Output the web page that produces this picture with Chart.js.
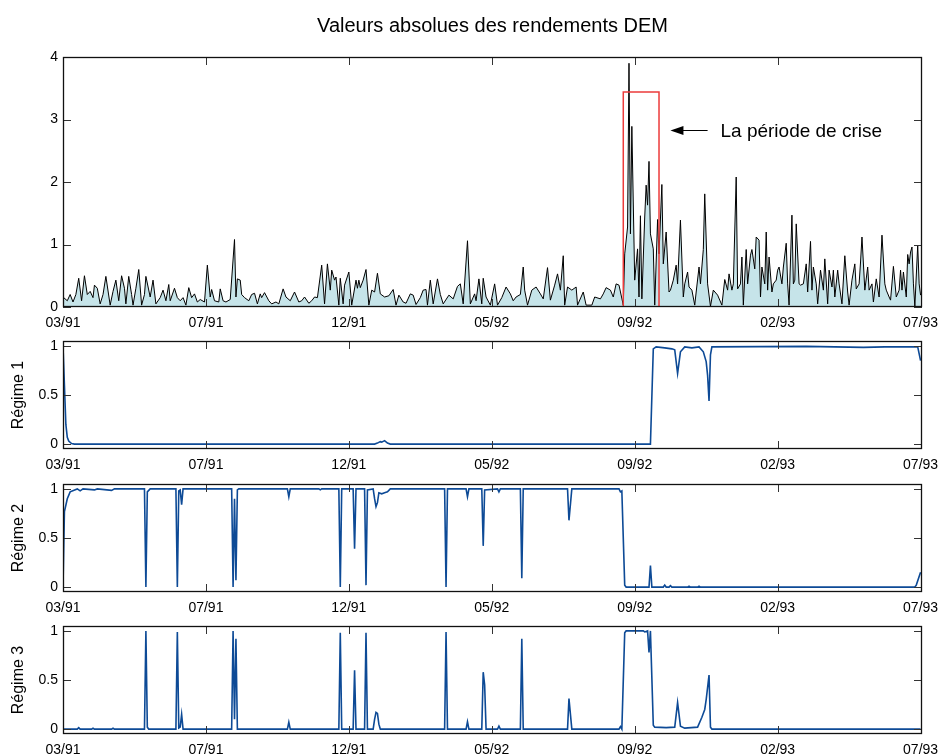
<!DOCTYPE html>
<html>
<head>
<meta charset="utf-8">
<script src="https://cdn.jsdelivr.net/npm/chart.js@4.4.1/dist/chart.umd.min.js"></script>
<style>
body{margin:0;background:#fff;}
#wrap{position:relative;width:943px;height:756px;background:#fff;}
#wrap canvas{position:absolute;left:0;top:0;}
</style>
</head>
<body>
<div id="wrap">
<canvas id="returns" width="943" height="756"></canvas>
<canvas id="regime1" width="943" height="756"></canvas>
<canvas id="regime2" width="943" height="756"></canvas>
<canvas id="regime3" width="943" height="756"></canvas>
</div>
<script>
// trading day index -> date label on the x axes
const tickDays = [0, 100, 200, 300, 400, 500, 600];
const tickLabels = ['03/91', '07/91', '12/91', '05/92', '09/92', '02/93', '07/93'];

// absolute DEM returns
const retDay = [
  0,3,5,7,9,11,13,15,17,19, 21,22,24,26,28,30,33,35,37,39,
  41,43,44,46,48,49,51,53,55,57, 58,61,63,65,68,70,72,74,75,78,
  80,82,84,86,88,90,92,94,96,99, 101,103,104,106,109,110,112,114,117,120,
  121,122,124,125,127,130,132,134,136,138, 139,141,144,146,149,
  151,154,156,159,162,165,167,169,172,174, 176,178,181,183,185,187,188,190,191,193,
  194,196,197,200,202,205,206,207,208,210, 212,214,216,218,220,222,225,228,231,233,
  235,238,240,243,245,247,250,252,254,255, 257,259,262,264,266,270,273,276,278,280,
  283,285,288,289,291,293,294,296,299,302,
  304,307,310,313,315,317,320,322,323,325, 328,331,334,336,339,341,344,346,348,350,
  351,353,356,359,360,364,366,370,372,376, 378,380,383,385,387,389,392,393,395,396,
  397,398,400,402,403,404,405,407,408,409, 410,411,413,414,416,417,419,420,422,424,
  425,427,429,430,432,434,435,437,438,440, 442,443,445,446,448,449,451,453,455,458,
  461,463,465,466,468,469,471,472,474,475, 476,478,479,481,482,484,485,487,488,489,
  491,492,493,494,496,497,499,500,501,503, 504,506,507,508,510,511,512,513,515,516,
  518,520,521,523,524,525,527,528,530,532, 533,535,536,538,539,540,542,543,545,547,
  549,550,552,554,555,557,558,559,561,563, 564,566,567,569,571,573,575,576,578,579,
  581,583,585,586,587,588,590,591,592,593, 594,595,596,598,599,600
];
const retAbs = [
  .16,.10,.20,.08,.20,.46,.10,.50,.20,.25, .15,.35,.30,.05,.20,.49,.03,.25,.43,.10,
  .50,.30,.05,.49,.20,.03,.30,.60,.03,.20, .49,.16,.43,.05,.15,.27,.10,.36,.10,.30,
  .15,.10,.15,.03,.31,.15,.21,.08,.12,.08, .67,.16,.28,.10,.08,.29,.10,.08,.12,1.08,
  .16,.45,.43,.20,.15,.10,.20,.22,.05,.21, .15,.23,.10,.05,.08,
  .05,.29,.16,.10,.24,.08,.10,.16,.06,.10, .16,.15,.67,.05,.69,.27,.59,.43,.48,.03,
  .46,.05,.35,.56,.03,.43,.30,.43,.31,.43, .60,.03,.27,.24,.54,.21,.16,.18,.28,.03,
  .19,.08,.06,.21,.19,.04,.15,.27,.28,.03, .43,.05,.45,.20,.05,.19,.13,.33,.37,.05,
  1.06,.05,.21,.10,.45,.05,.46,.16,.03,.37,
  .03,.15,.32,.21,.10,.16,.20,.64,.27,.03, .27,.32,.21,.13,.63,.11,.35,.53,.27,.82,
  .03,.32,.27,.32,.03,.24,.03,.03,.16,.13, .21,.31,.27,.16,.37,.35,.03,.85,1.28,3.90,
  1.17,2.89,.43,.93,.16,1.46,.13,1.44,1.95,1.63, 2.33,1.17,.93,.03,1.40,.85,1.96,.69,1.20,.24,
  .27,.43,.67,.37,1.39,.16,.37,.56,.32,.27, .03,.24,.64,.37,.92,1.81,.37,.01,.27,.19,
  .03,.44,.27,.53,.27,.37,2.08,.29,.37,.80, .03,.92,.37,.83,.92,.61,1.12,1.07,.16,.64,
  .37,1.20,.27,.80,.24,.37,.43,.59,.64,.37, .64,1.02,.37,.03,1.47,.37,.43,1.33,.37,.35,
  .37,.69,.24,1.05,.27,.64,.37,.05,.59,.27, .77,.05,.59,.32,.59,.16,.59,.37,.05,.82,
  .24,.03,.43,.69,.29,.37,.72,1.12,.27,.64, .27,.37,.08,.45,.16,1.15,.37,.27,.16,.11,
  .65,.16,.27,.59,.27,.56,.16,.84,.69,.88, .96,.37,.01,.99,.37,.19
];

// smoothed regime probabilities
const reg1Day = [0,1,2,3,4,6,8, 218,220,222,223,225,227,229, 411,413,415,421,426,428,430,432,435,440,
  445,448,450,451,452,453,454, 520,560,575,598,600];
const reg1Prob = [1,.6,.2,.07,.03,.005,0, 0,.01,.025,.02,.035,.01,0, 0,.97,.99,.98,.97,.96,.72,.94,.99,.98,
  .99,.94,.84,.7,.44,.91,.99, .995,.985,.99,.99,.85];

const reg2Day = [
  0,1,3,5,10,12,14,22,24,34, 36,57,58,59,61,79,80,81,82,83,
  84,118,119,120,121,122,123,157,158,159, 179,180,181,193,194,195,203,204,205,211,
  212,213,217,218,219,220,221,223,225,227, 229,267,268,269,282,283,284,293,294,295,
  304,305,306,320,321,322,353,354,356,389, 390,391,393,394,410,411,412,420,421,422,
  424,425,426,437,438,439,444,445,446,596, 597,600
];
const reg2Prob = [
  0,.77,.9,.97,1,.98,1,.99,1,.985, 1,1,0,.97,1,1,0,.98,.99,.84,
  1,1,0,.9,.07,.99,1,1,.92,1, 1,.99,1,1,0,1,1,.39,1,1,
  .02,.99,1,.9,.82,.86,.96,.95,.96,.97, 1,1,0,1,1,.92,1,1,.42,.99,
  1,.97,1,1,.09,1,1,.68,1,1, .97,.98,.02,0,0,.22,0,0,.02,0,
  0,.015,0,0,.01,0,0,.01,0,0, .02,.15
];

const reg3Day = [
  0,10,11,12,20,21,22,34,35,36, 57,58,59,60,79,80,81,82,83,84,
  118,119,120,121,122,157,158,159,193,194, 195,203,204,205,211,212,213,217,218,219,
  220,221,222,267,268,269,282,283,284,293, 294,295,296,304,305,306,320,321,322,353,
  354,356,389,390,391,393,394,406,407,409, 410,411,413,414,422,428,430,432,435,444,
  447,449,450,452,453,454,600
];
const reg3Prob = [
  0,0,.015,0,0,.01,0,0,.01,0, 0,1,.02,0,0,.99,.01,.02,.15,0,
  0,1,.1,.92,0,0,.07,0,0,.98, 0,0,.6,0,0,.98,0,0,.1,.17,
  .16,.05,0,0,.99,0,0,.075,0,0, .58,.45,0,0,.03,0,0,.92,0,0,
  .31,0,0,.025,0,.98,1,1,.99,1, .78,1,.04,.02,.015,.02,.27,.03,.01,.02,
  .12,.2,.3,.55,.02,0,0
];

// crisis annotation (data units)
const crisisSpan = [392, 417];
const crisisTop = 3.44;
const arrowSpan = [425, 451];
const arrowLevel = 2.83;
const labelDay = 460;
const crisisLabel = 'La période de crise';

Chart.defaults.font.family = "'Liberation Sans', Arial, Helvetica, sans-serif";
Chart.defaults.color = '#000';

const pairs = (xs, ys) => xs.map((x, i) => ({x: x, y: ys[i]}));

// MATLAB style box with inward ticks on all four sides
const framePlugin = {
  id: 'frame',
  afterDraw(chart) {
    const {ctx, chartArea: a, scales} = chart;
    ctx.save();
    ctx.strokeStyle = '#333';
    ctx.lineWidth = 1;
    ctx.beginPath();
    scales.x.ticks.forEach(t => {
      const px = Math.round(scales.x.getPixelForValue(t.value)) + 0.5;
      ctx.moveTo(px, a.bottom); ctx.lineTo(px, a.bottom - 8);
      ctx.moveTo(px, a.top); ctx.lineTo(px, a.top + 8);
    });
    scales.y.ticks.forEach(t => {
      const py = Math.round(scales.y.getPixelForValue(t.value)) + 0.5;
      ctx.moveTo(a.left, py); ctx.lineTo(a.left + 8, py);
      ctx.moveTo(a.right, py); ctx.lineTo(a.right - 8, py);
    });
    ctx.stroke();
    ctx.strokeStyle = '#111';
    ctx.lineWidth = 1.3;
    ctx.strokeRect(a.left + 0.5, a.top + 0.5, a.right - a.left - 1, a.bottom - a.top - 1);
    ctx.restore();
  }
};

const crisisPlugin = {
  id: 'crisis',
  afterDatasetsDraw(chart) {
    const {ctx} = chart;
    const xs = chart.scales.x, ys = chart.scales.y;
    const x0 = xs.getPixelForValue(crisisSpan[0]), x1 = xs.getPixelForValue(crisisSpan[1]);
    const yt = ys.getPixelForValue(crisisTop), yb = ys.getPixelForValue(0);
    ctx.save();
    ctx.strokeStyle = '#ec3b3b';
    ctx.lineWidth = 1.5;
    ctx.beginPath();
    ctx.moveTo(x0, yb); ctx.lineTo(x0, yt); ctx.lineTo(x1, yt); ctx.lineTo(x1, yb);
    ctx.stroke();
    const tip = xs.getPixelForValue(arrowSpan[0]), tail = xs.getPixelForValue(arrowSpan[1]);
    const ay = Math.round(ys.getPixelForValue(arrowLevel)) + 0.5;
    ctx.strokeStyle = '#000';
    ctx.fillStyle = '#000';
    ctx.lineWidth = 1;
    ctx.beginPath();
    ctx.moveTo(tail, ay); ctx.lineTo(tip + 8, ay);
    ctx.stroke();
    ctx.beginPath();
    ctx.moveTo(tip, ay); ctx.lineTo(tip + 13, ay - 4.5); ctx.lineTo(tip + 13, ay + 4.5);
    ctx.closePath();
    ctx.fill();
    ctx.font = "19px 'Liberation Sans', Arial, sans-serif";
    ctx.textBaseline = 'middle';
    ctx.textAlign = 'left';
    ctx.fillText(crisisLabel, xs.getPixelForValue(labelDay), ay + 1);
    ctx.restore();
  }
};

// the x axis box is 22px high so the tick labels are not clipped
const xAxisHeight = 22;

function xAxis() {
  return {
    type: 'linear', min: 0, max: 601,
    grid: {display: false, drawTicks: false},
    border: {display: false},
    afterBuildTicks: s => { s.ticks = tickDays.map(v => ({value: v})); },
    afterFit: s => { s.height = xAxisHeight; s.paddingLeft = 0; s.paddingRight = 0; },
    ticks: {
      padding: 8, autoSkip: false, maxRotation: 0, color: '#000',
      font: {size: 14},
      callback: (v, i) => tickLabels[i]
    }
  };
}

function yAxis(min, max, tickVals, title) {
  return {
    min: min, max: max,
    grid: {display: false, drawTicks: false},
    border: {display: false},
    afterBuildTicks: s => { s.ticks = tickVals.map(v => ({value: v})); },
    afterFit: s => { s.width = 63; s.paddingTop = 0; s.paddingBottom = 0; },
    ticks: {padding: 5, color: '#000', font: {size: 14}, callback: v => String(v)},
    title: {
      display: !!title, text: title || '', color: '#000',
      font: {size: 16}, padding: {top: 9, bottom: 0}
    }
  };
}

function panel(id, top, bottom, dataset, y, plugins, titleOpts) {
  return new Chart(document.getElementById(id), {
    type: 'line',
    data: {datasets: [dataset]},
    options: {
      responsive: false,
      animation: false,
      events: [],
      devicePixelRatio: 1,
      layout: {padding: {left: 0, right: 21, top: top, bottom: 756 - bottom - xAxisHeight}},
      plugins: {
        legend: {display: false},
        tooltip: {enabled: false},
        title: titleOpts || {display: false}
      },
      scales: {x: xAxis(), y: y}
    },
    plugins: plugins
  });
}

panel('returns', 0, 307, {
  data: pairs(retDay, retAbs),
  borderColor: '#000', borderWidth: 1,
  backgroundColor: '#c6e4e9', fill: 'origin',
  pointRadius: 0, tension: 0
}, yAxis(0, 4, [0, 1, 2, 3, 4]), [crisisPlugin, framePlugin], {
  display: true, text: 'Valeurs absolues des rendements DEM',
  color: '#000', fullSize: false,
  font: {size: 20, weight: 'normal'}, padding: {top: 14, bottom: 19}
});

const regimeStyle = {borderColor: '#0d4a96', borderWidth: 1.6, pointRadius: 0, tension: 0, fill: false};

panel('regime1', 341, 449, Object.assign({data: pairs(reg1Day, reg1Prob)}, regimeStyle),
  yAxis(-0.05, 1.05, [0, 0.5, 1], 'Régime 1'), [framePlugin]);
panel('regime2', 484, 592, Object.assign({data: pairs(reg2Day, reg2Prob)}, regimeStyle),
  yAxis(-0.05, 1.05, [0, 0.5, 1], 'Régime 2'), [framePlugin]);
panel('regime3', 626, 734, Object.assign({data: pairs(reg3Day, reg3Prob)}, regimeStyle),
  yAxis(-0.05, 1.05, [0, 0.5, 1], 'Régime 3'), [framePlugin]);
</script>
</body>
</html>
